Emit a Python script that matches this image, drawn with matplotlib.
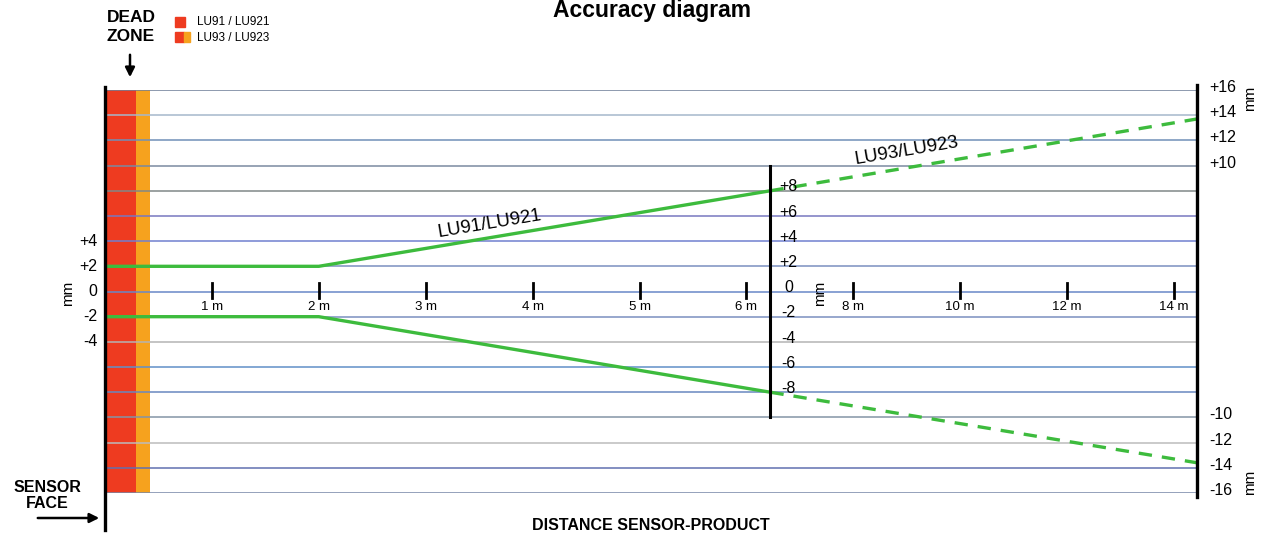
import matplotlib.pyplot as plt
from matplotlib.patches import Rectangle

# distances in metres, accuracy in mm
dist_ticks = [1, 2, 3, 4, 5, 6, 8, 10, 12, 14]
left_vals = [4, 2, 0, -2, -4]
mid_vals = [8, 6, 4, 2, 0, -2, -4, -6, -8]
right_vals = [16, 14, 12, 10, -10, -12, -14, -16]
grid_vals = list(range(16, -17, -2))

lu91_x = [0, 2, 6.45]
lu91_up = [2, 2, 8]
lu91_lo = [-2, -2, -8]
lu93_x = [6.45, 14.43]
lu93_up = [8, 13.7]
lu93_lo = [-8, -13.6]

dead_lu91 = 0.29
dead_lu93 = 0.42
x_end = 14.43
x_mid = 6.45

grid_colors = ['#6f7f99', '#a6b8cc', '#7090b8', '#7a8aa0', '#808888', '#7878c0',
               '#7080d0', '#7a90c0', '#6888c8', '#7a90c0', '#b4b4b4', '#6090c8',
               '#6888c0', '#8494a6', '#bcbcbc', '#6070b0', '#7888a8']

RED = '#ee3b20'
ORANGE = '#f6a21e'
GREEN = '#3dbb3d'
ARIAL = ['Liberation Sans', 'DejaVu Sans']


def u(x):
    # piecewise scale: 0-6 m full, above 6 m half
    return x if x <= 6 else 6 + (x - 6) / 2.0


W, H = 1268, 538
fig = plt.figure(figsize=(W / 100, H / 100), dpi=100)
ax = fig.add_axes([105 / W, (H - 493) / H, (1197 - 105) / W, (493 - 90) / H])
ax.set_xlim(0, u(x_end))
ax.set_ylim(-16, 16)
ax.axis('off')


def px(x, y):
    return x / W, 1 - y / H


# dead zone
ax.add_patch(Rectangle((0, -16), u(dead_lu91), 32, color=RED, zorder=1, lw=0))
ax.add_patch(Rectangle((u(dead_lu91), -16), u(dead_lu93) - u(dead_lu91), 32,
                       color=ORANGE, zorder=1, lw=0))

for v, c in zip(grid_vals, grid_colors):
    ax.axhline(v, color=c, lw=1.1, zorder=2)

# accuracy lines
ax.plot([u(x) for x in lu91_x], lu91_up, color=GREEN, lw=2.4, zorder=3)
ax.plot([u(x) for x in lu91_x], lu91_lo, color=GREEN, lw=2.4, zorder=3)
ax.plot([u(x) for x in lu93_x], lu93_up, color=GREEN, lw=2.4, ls=(0, (4, 3)), zorder=3)
ax.plot([u(x) for x in lu93_x], lu93_lo, color=GREEN, lw=2.4, ls=(0, (4, 3)), zorder=3)

# axes lines
ax.plot([0, 0], [16.2, -18.9], color='black', lw=2.4, clip_on=False, zorder=5)
ax.plot([u(x_end), u(x_end)], [16.4, -16.3], color='black', lw=2.4, clip_on=False, zorder=5)
ax.plot([u(x_mid), u(x_mid)], [10, -10], color='black', lw=2.2, zorder=5)

# distance ticks
for t in dist_ticks:
    ax.plot([u(t), u(t)], [0.65, -0.55], color='black', lw=2, zorder=5)
    ax.text(u(t), -1.25, f'{t} m', ha='center', va='center', fontsize=9.5,
            family=ARIAL)

for v in left_vals:
    lab = f'+{v}' if v > 0 else str(v)
    ax.text(-0.07, v, lab, ha='right', va='center', fontsize=11.5, family=ARIAL,
            clip_on=False)
for v in mid_vals:
    lab = f'+{v}' if v > 0 else str(v)
    ax.text(u(x_mid) + 0.17, v + 0.3, lab, ha='center', va='center', fontsize=11.5,
            family=ARIAL)
for v in right_vals:
    lab = f'+{v}' if v > 0 else str(v)
    ax.text(u(x_end) + 0.11, v + 0.2, lab, ha='left', va='center', fontsize=11.5,
            family=ARIAL, clip_on=False)

# mm units
for x, y in [(68, 293), (820, 293), (1250, 98), (1250, 482)]:
    fig.text(*px(x, y), 'mm', rotation=90, ha='center', va='center', fontsize=11,
             family=ARIAL)

# line labels
ax.text(u(3.6), 5.4, 'LU91/LU921', rotation=9.5, ha='center', va='center',
        fontsize=13.5, family=ARIAL)
ax.text(u(9.0), 11.2, 'LU93/LU923', rotation=9.5, ha='center', va='center',
        fontsize=13.5, family=ARIAL)

# title and annotations
fig.text(*px(652, 17), 'Accuracy diagram', ha='center', va='baseline',
         fontsize=16.5, fontweight='bold', family=ARIAL)
fig.text(*px(131, 18), 'DEAD', ha='center', va='center', fontsize=12.5,
         fontweight='bold', family=ARIAL)
fig.text(*px(131, 37), 'ZONE', ha='center', va='center', fontsize=12.5,
         fontweight='bold', family=ARIAL)
fig.text(*px(47, 487), 'SENSOR', ha='center', va='center', fontsize=11.5,
         fontweight='bold', family=ARIAL)
fig.text(*px(47, 503), 'FACE', ha='center', va='center', fontsize=11.5,
         fontweight='bold', family=ARIAL)
fig.text(*px(651, 526), 'DISTANCE SENSOR-PRODUCT', ha='center', va='center',
         fontsize=11.5, fontweight='bold', family=ARIAL)

fig.add_artist(plt.Annotation('', xy=px(130, 80), xytext=px(130, 52),
                              xycoords='figure fraction', textcoords='figure fraction',
                              arrowprops=dict(arrowstyle='-|>', color='black', lw=1.8,
                                              mutation_scale=14)))
fig.add_artist(plt.Annotation('', xy=px(102, 518), xytext=px(35, 518),
                              xycoords='figure fraction', textcoords='figure fraction',
                              arrowprops=dict(arrowstyle='-|>', color='black', lw=1.8,
                                              mutation_scale=14)))

# legend
fig.add_artist(Rectangle(px(175, 27), 10 / W, 10 / H, color=RED, transform=fig.transFigure))
fig.add_artist(Rectangle(px(175, 42), 9 / W, 10 / H, color=RED, transform=fig.transFigure))
fig.add_artist(Rectangle(px(184, 42), 6 / W, 10 / H, color=ORANGE, transform=fig.transFigure))
fig.text(*px(197, 22), 'LU91 / LU921', ha='left', va='center', fontsize=8.5, family=ARIAL)
fig.text(*px(197, 38), 'LU93 / LU923', ha='left', va='center', fontsize=8.5, family=ARIAL)

fig.savefig('out.png', dpi=100, facecolor='white')
